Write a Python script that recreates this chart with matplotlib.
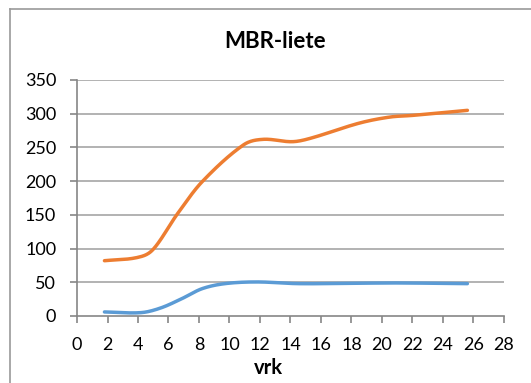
import numpy as np
import matplotlib
matplotlib.use('Agg')
import matplotlib.pyplot as plt
from matplotlib.lines import Line2D

# day (vrk) and values for both series
orange_x = [1.8, 4.0, 5.0, 6.6, 8.2, 10.9, 12.2, 14.1, 15.3, 18.5, 20.5, 22.0, 25.6]
orange_y = [82, 87, 99, 152, 199, 253.5, 262, 258.5, 263.5, 286, 295, 297.5, 305]
blue_x = [1.8, 4.2, 5.5, 6.9, 8.2, 9.7, 11.8, 14.5, 18.0, 21.0, 25.6]
blue_y = [6, 5, 12, 26, 40.5, 48, 50.5, 48, 48.5, 49, 48]

xticks = list(range(0, 29, 2))
yticks = list(range(0, 351, 50))


def smooth(x, y, n=30):
    # cubic hermite through the points, slopes from neighbours (smoothed line)
    x = np.asarray(x, float)
    y = np.asarray(y, float)
    m = np.zeros_like(y)
    m[1:-1] = (y[2:] - y[:-2]) / (x[2:] - x[:-2])
    m[0] = (y[1] - y[0]) / (x[1] - x[0])
    m[-1] = (y[-1] - y[-2]) / (x[-1] - x[-2])
    xs, ys = [], []
    for i in range(len(x) - 1):
        h = x[i + 1] - x[i]
        t = np.linspace(0, 1, n)
        if i > 0:
            t = t[1:]
        h00 = 2 * t**3 - 3 * t**2 + 1
        h10 = t**3 - 2 * t**2 + t
        h01 = -2 * t**3 + 3 * t**2
        h11 = t**3 - t**2
        xs.append(x[i] + t * h)
        ys.append(h00 * y[i] + h10 * h * m[i] + h01 * y[i + 1] + h11 * h * m[i + 1])
    return np.concatenate(xs), np.concatenate(ys)


plt.rcParams['font.family'] = ['Lato', 'DejaVu Sans']

fig = plt.figure(figsize=(5.31, 3.83), dpi=100)
ax = fig.add_axes([77 / 531, 1 - 316 / 383, 427 / 531, 236 / 383])

grid_col = '#a6a6a6'
for yv in yticks[1:]:
    ax.axhline(yv, color=grid_col, lw=1.2, zorder=1)

xs, ys = smooth(blue_x, blue_y)
ax.plot(xs, ys, color='#5b9bd5', lw=2.5, solid_capstyle='round', zorder=3)
xs, ys = smooth(orange_x, orange_y)
ax.plot(xs, ys, color='#ed7d31', lw=2.5, solid_capstyle='round', zorder=3)

ax.set_xlim(0, 28)
ax.set_ylim(0, 350)
ax.set_xticks(xticks)
ax.set_yticks(yticks)
ax.tick_params(axis='both', direction='out', length=5, width=1.2,
               color='#868686', labelsize=13, labelcolor='black')
ax.tick_params(axis='x', pad=10)
ax.tick_params(axis='y', pad=10)

for side in ['top', 'right']:
    ax.spines[side].set_visible(False)
for side in ['left', 'bottom']:
    ax.spines[side].set_color('#868686')
    ax.spines[side].set_linewidth(1.2)

fig.text(275 / 531, 1 - 42 / 383, 'MBR-liete', ha='center', va='center',
         fontsize=16, fontweight='bold')
fig.text(268 / 531, 1 - 368 / 383, 'vrk', ha='center', va='center',
         fontsize=14.5, fontweight='bold')

# outer chart frame
fig.add_artist(Line2D([10 / 531, 10 / 531], [0, 1 - 9 / 383],
                      transform=fig.transFigure, color='#9a9a9a', lw=1.2))
fig.add_artist(Line2D([10 / 531, 1], [1 - 9 / 383, 1 - 9 / 383],
                      transform=fig.transFigure, color='#9a9a9a', lw=1.2))

fig.savefig('out.png', dpi=100)
